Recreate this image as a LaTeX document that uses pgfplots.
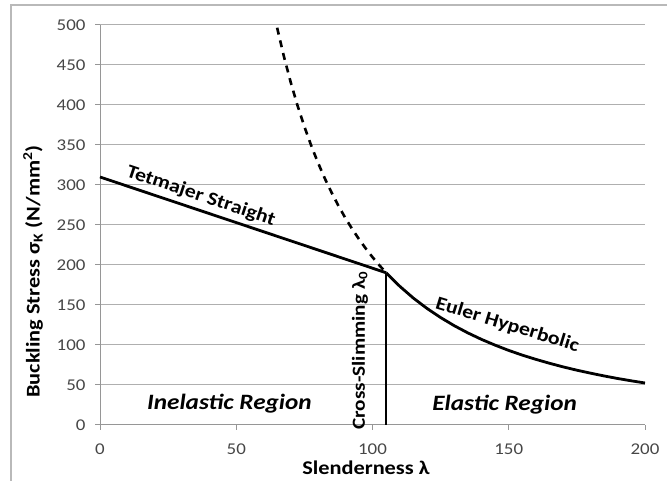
\documentclass[border=0pt]{standalone}
\usepackage{pgfplots}
\pgfplotsset{compat=1.18}
\usepackage{fontspec}
\setmainfont{Carlito}[FakeStretch=1.15]
\definecolor{gridgray}{RGB}{175,175,175}
\definecolor{axisgray}{RGB}{150,150,150}
\definecolor{tickgray}{RGB}{70,70,70}
\definecolor{framegray}{RGB}{185,185,185}

\begin{document}
\begin{tikzpicture}[x=1bp,y=1bp]
\useasboundingbox (0,0) rectangle (667,481);
% outer chart frame
\draw[framegray, line width=1.5bp] (11,-2) -- (11,476) -- (669,476);
\begin{axis}[
  scale only axis, width=545bp, height=400bp,
  at={(100bp,56bp)}, anchor=south west,
  xmin=0, xmax=200, ymin=0, ymax=500,
  xtick={0,50,...,200}, ytick={0,50,...,500},
  axis lines*=left,
  axis line style={axisgray, line width=1bp},
  ymajorgrids, major grid style={gridgray, line width=1bp},
  tick align=outside, major tick length=5bp,
  tick style={axisgray, line width=1bp},
  /pgf/number format/assume math mode=true,
  ticklabel style={font=\fontsize{16.5}{19}\selectfont, text=tickgray},
  xticklabel style={yshift=-10bp},
  yticklabel style={xshift=-6bp},
  clip=false,
]
% Tetmajer straight line
\addplot[black, line width=2.8bp] coordinates {(0,310) (105,190.3)};
% Euler hyperbola, dashed beyond the limit slenderness
\addplot[black, line width=2.6bp, dash pattern=on 7bp off 6bp] coordinates {
 (65,496.6) (67.5,460.5) (70,428.2) (72.5,399.1) (75,373.0) (77.5,349.3)
 (80,327.8) (82.5,308.2) (85,290.4) (87.5,274.0) (90,259.0) (92.5,245.2)
 (95,232.5) (97.5,220.7) (100,209.8) (102.5,199.7) (105,190.3)};
% Euler hyperbola, elastic range
\addplot[black, line width=2.8bp, line join=round] coordinates {
 (105,190.3) (110,173.4) (115,158.6) (120,145.7) (125,134.3) (130,124.1)
 (135,115.1) (140,107.0) (145,99.8) (150,93.2) (155,87.3) (160,82.0)
 (165,77.1) (170,72.6) (175,68.5) (180,64.8) (185,61.3) (190,58.1)
 (195,55.2) (200,52.5)};
% limit slenderness
\addplot[black, line width=1.3bp] coordinates {(105,0) (105,190.3)};

\node[rotate=-18.5, font=\fontsize{19}{21}\selectfont\bfseries] at (axis cs:37,286) {Tetmajer Straight};
\node[rotate=-17, font=\fontsize{19}{21}\selectfont\bfseries] at (axis cs:149.5,125) {Euler Hyperbolic};
\node[font=\fontsize{22}{25}\selectfont\bfseries\itshape] at (axis cs:47.5,27) {Inelastic Region};
\node[font=\fontsize{22}{25}\selectfont\bfseries\itshape] at (axis cs:148.5,25) {Elastic Region};
\node[rotate=90, font=\fontsize{18.5}{21}\selectfont\bfseries] at (axis cs:95.4,93) {Cross-Slimming λ\textsubscript{0}};
\end{axis}
\node[font=\fontsize{19.5}{21}\selectfont\bfseries] at (366,13) {Slenderness λ};
\node[rotate=90, anchor=west, inner xsep=0pt, font=\fontsize{19.5}{21}\selectfont\bfseries] at (33,83) {Buckling Stress σ\textsubscript{K} (N/mm\textsuperscript{2})};
\end{tikzpicture}
\end{document}
